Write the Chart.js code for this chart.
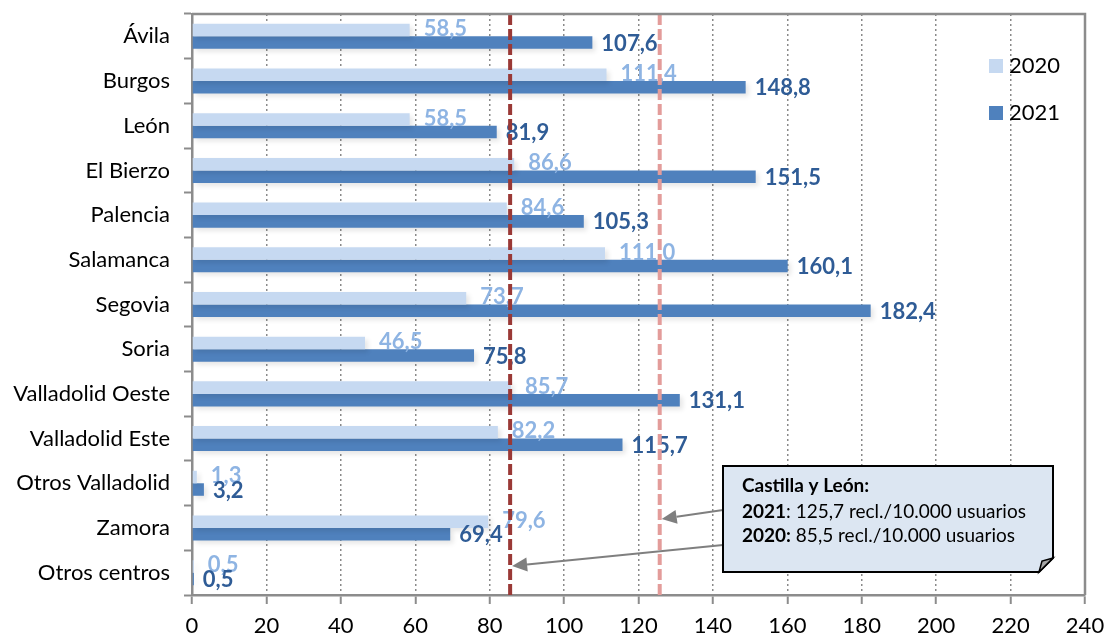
<!DOCTYPE html>
<html>
<head>
<meta charset="utf-8">
<script src="https://cdn.jsdelivr.net/npm/chart.js@4.4.1/dist/chart.umd.min.js"></script>
<style>
  html, body { margin: 0; padding: 0; background: #ffffff; }
  #wrap { width: 1105px; height: 637px; position: relative; }
</style>
</head>
<body>
<div id="wrap"><canvas id="chart" width="1105" height="637"></canvas></div>
<script>
// Reclamaciones por cada 10.000 usuarios, por área de salud
const categories = ['Ávila', 'Burgos', 'León', 'El Bierzo', 'Palencia', 'Salamanca', 'Segovia', 'Soria',
  'Valladolid Oeste', 'Valladolid Este', 'Otros Valladolid', 'Zamora', 'Otros centros'];
const values2020 = [58.5, 111.4, 58.5, 86.6, 84.6, 111.0, 73.7, 46.5, 85.7, 82.2, 1.3, 79.6, 0.5];
const values2021 = [107.6, 148.8, 81.9, 151.5, 105.3, 160.1, 182.4, 75.8, 131.1, 115.7, 3.2, 69.4, 0.5];
const seriesNames = ['2020', '2021'];

// Media de Castilla y León
const regionTitle = 'Castilla y León:';
const regionYears = ['2021', '2020'];
const regionValues = [125.7, 85.5];
const regionUnit = 'recl./10.000 usuarios';

// Eje de valores
const axisMin = 0;
const axisMax = 240;
const axisStep = 20;

const FONT = 'Lato, "Noto Sans", sans-serif';
const fmt = v => v.toFixed(1).replace('.', ',');

const barColors = ['#C6D9F1', '#4F81BD'];
const labelColors = ['#8EB4E3', '#2F5C96'];
const refLineColors = { '2021': '#E39C9A', '2020': '#9A3936' };

function arrow(ctx, x1, y1, x2, y2) {
  const ang = Math.atan2(y2 - y1, x2 - x1);
  const len = 15, half = 7;
  const bx = x2 - len * Math.cos(ang), by = y2 - len * Math.sin(ang);
  ctx.beginPath();
  ctx.moveTo(x1, y1);
  ctx.lineTo(bx, by);
  ctx.stroke();
  ctx.beginPath();
  ctx.moveTo(x2, y2);
  ctx.lineTo(bx + half * Math.sin(ang), by - half * Math.cos(ang));
  ctx.lineTo(bx - half * Math.sin(ang), by + half * Math.cos(ang));
  ctx.closePath();
  ctx.fill();
}

const decor = {
  id: 'decor',
  beforeDatasetDraw(chart) {
    const ctx = chart.ctx;
    ctx.save();
    ctx.shadowColor = 'rgba(0,0,0,0.10)';
    ctx.shadowBlur = 5;
    ctx.shadowOffsetX = 3;
    ctx.shadowOffsetY = 3;
  },
  afterDatasetDraw(chart) {
    chart.ctx.restore();
  },
  afterDatasetsDraw(chart) {
    const ctx = chart.ctx;
    const area = chart.chartArea;
    const xs = chart.scales.x;

    // valores junto a cada barra
    ctx.save();
    ctx.font = 'bold 22px ' + FONT;
    ctx.textAlign = 'left';
    ctx.textBaseline = 'middle';
    chart.data.datasets.forEach((ds, di) => {
      const meta = chart.getDatasetMeta(di);
      meta.data.forEach((bar, i) => {
        ctx.fillStyle = labelColors[di];
        const dx = di === 0 ? 14 : 9;
        const dy = di === 0 ? -1 : 1;
        ctx.fillText(fmt(ds.data[i]), bar.x + dx, bar.y + dy);
      });
    });
    ctx.restore();

    // líneas de referencia (media regional)
    ctx.save();
    ctx.lineWidth = 4;
    ctx.setLineDash([11, 4]);
    regionYears.forEach((yr, k) => {
      const x = xs.getPixelForValue(regionValues[k]);
      ctx.strokeStyle = refLineColors[yr];
      ctx.beginPath();
      ctx.moveTo(x, area.top);
      ctx.lineTo(x, area.bottom);
      ctx.stroke();
    });
    ctx.restore();

    // marco superior y derecho del área de trazado
    ctx.save();
    ctx.strokeStyle = '#8C8C8C';
    ctx.lineWidth = 2.5;
    ctx.beginPath();
    ctx.moveTo(area.left, area.top);
    ctx.lineTo(area.right, area.top);
    ctx.lineTo(area.right, area.bottom);
    ctx.stroke();
    ctx.restore();

    // leyenda
    ctx.save();
    ctx.font = '22px ' + FONT;
    ctx.textBaseline = 'middle';
    ctx.textAlign = 'left';
    const lx = area.right - 96;
    const lys = [area.top + 52, area.top + 99];
    seriesNames.forEach((name, k) => {
      ctx.fillStyle = barColors[k];
      ctx.fillRect(lx, lys[k] - 7, 14, 14);
      ctx.fillStyle = '#000000';
      ctx.fillText(name, lx + 20, lys[k]);
    });
    ctx.restore();

    // cuadro de nota con flechas
    const bx = 723, by = 466, bw = 330, bh = 106, fold = 14;
    ctx.save();
    ctx.strokeStyle = '#7F7F7F';
    ctx.fillStyle = '#7F7F7F';
    ctx.lineWidth = 2;
    const tipYs = [519, 566];
    const startYs = [510, 545];
    regionYears.forEach((yr, k) => {
      arrow(ctx, bx, startYs[k], xs.getPixelForValue(regionValues[k]) + 2, tipYs[k]);
    });
    ctx.restore();

    ctx.save();
    ctx.beginPath();
    ctx.moveTo(bx, by);
    ctx.lineTo(bx + bw, by);
    ctx.lineTo(bx + bw, by + bh - fold);
    ctx.lineTo(bx + bw - fold, by + bh);
    ctx.lineTo(bx, by + bh);
    ctx.closePath();
    ctx.fillStyle = '#DCE6F2';
    ctx.fill();
    ctx.lineWidth = 2;
    ctx.strokeStyle = '#000000';
    ctx.stroke();
    ctx.beginPath();
    ctx.moveTo(bx + bw, by + bh - fold);
    ctx.lineTo(bx + bw - fold, by + bh);
    ctx.lineTo(bx + bw - fold + 3, by + bh - fold + 3);
    ctx.closePath();
    ctx.fillStyle = '#A6A6A6';
    ctx.fill();
    ctx.lineWidth = 1.5;
    ctx.stroke();

    ctx.fillStyle = '#000000';
    ctx.textAlign = 'left';
    ctx.textBaseline = 'alphabetic';
    const tx = bx + 19;
    ctx.font = 'bold 19px ' + FONT;
    ctx.fillText(regionTitle, tx, by + 26);
    const lineYs = [by + 52, by + 76];
    regionYears.forEach((yr, k) => {
      const boldPart = k === 0 ? yr : yr + ':';
      const rest = k === 0 ? ': ' + fmt(regionValues[k]) + ' ' + regionUnit : ' ' + fmt(regionValues[k]) + ' ' + regionUnit;
      ctx.font = 'bold 19px ' + FONT;
      ctx.fillText(boldPart, tx, lineYs[k]);
      const w = ctx.measureText(boldPart).width;
      ctx.font = '19px ' + FONT;
      ctx.fillText(rest, tx + w, lineYs[k]);
    });
    ctx.restore();
  }
};

new Chart(document.getElementById('chart'), {
  type: 'bar',
  data: {
    labels: categories,
    datasets: [
      { label: seriesNames[0], data: values2020, backgroundColor: barColors[0], borderWidth: 0 },
      { label: seriesNames[1], data: values2021, backgroundColor: barColors[1], borderWidth: 0 }
    ]
  },
  options: {
    indexAxis: 'y',
    responsive: false,
    animation: false,
    events: [],
    categoryPercentage: 0.56,
    barPercentage: 1.0,
    layout: { padding: { top: 14, right: 20, left: 0, bottom: 0 } },
    plugins: {
      legend: { display: false },
      tooltip: { enabled: false }
    },
    scales: {
      x: {
        type: 'linear',
        min: axisMin,
        max: axisMax,
        afterFit(scale) {
          scale.height = 42;
          scale.paddingLeft = 0;
          scale.paddingRight = 0;
        },
        ticks: {
          stepSize: axisStep,
          color: '#000000',
          font: { family: FONT, size: 22 },
          padding: 9
        },
        grid: {
          color: '#8A8A8A',
          lineWidth: 1.5,
          drawTicks: true,
          tickLength: 9,
          tickColor: '#8C8C8C',
          tickWidth: 2
        },
        border: { display: true, color: '#8C8C8C', width: 2.5, dash: [2, 3] }
      },
      y: {
        type: 'category',
        offset: true,
        afterFit(scale) {
          scale.width = 192;
          scale.paddingTop = 0;
          scale.paddingBottom = 0;
        },
        ticks: {
          color: '#000000',
          font: { family: FONT, size: 22 },
          padding: 14,
          autoSkip: false
        },
        grid: {
          offset: true,
          drawOnChartArea: false,
          drawTicks: true,
          tickLength: 8,
          tickColor: '#8C8C8C',
          tickWidth: 2
        },
        border: { display: true, color: '#8C8C8C', width: 2.5 }
      }
    }
  },
  plugins: [decor]
});
</script>
</body>
</html>
